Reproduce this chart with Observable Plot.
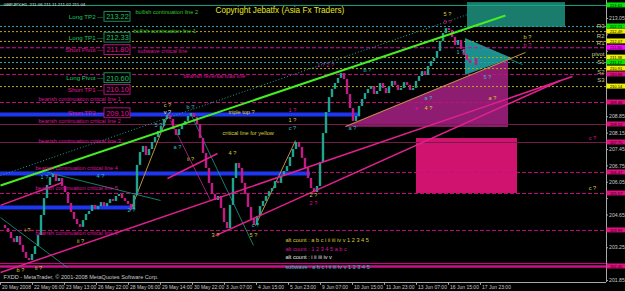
<!DOCTYPE html>
<html><head><meta charset="utf-8">
<script src="https://cdn.jsdelivr.net/npm/d3@7"></script>
<script src="https://cdn.jsdelivr.net/npm/@observablehq/plot@0.6"></script>
<style>html,body{margin:0;padding:0;background:#000;overflow:hidden}</style>
</head><body><div id="chart"></div>
<script>
// ---------- data ----------
const closes = [204.20,204.07,203.90,203.64,203.47,203.73,203.35,203.05,202.79,202.70,
202.96,203.30,203.77,204.63,205.35,205.91,206.25,206.38,206.08,206.21,
205.87,205.61,205.14,204.76,204.46,204.24,204.12,204.41,204.67,204.80,
205.06,204.88,205.01,205.18,205.01,205.14,205.31,205.23,205.44,205.53,
205.35,205.23,205.10,204.88,205.48,206.77,207.32,207.58,207.19,207.45,
207.75,207.96,208.22,208.43,208.73,208.90,208.73,208.30,208.05,208.30,
208.48,208.65,208.86,208.99,208.82,208.52,207.92,207.28,206.64,206.00,
205.53,205.27,205.44,204.93,204.33,204.07,205.06,206.21,206.85,206.64,
206.00,205.53,204.97,204.46,204.20,204.59,205.01,205.23,205.44,205.65,
205.78,206.08,206.00,206.30,206.51,206.72,207.11,207.45,207.75,207.54,
207.07,206.64,206.21,205.78,205.61,205.87,206.89,208.13,209.03,209.67,
210.02,210.27,210.49,210.70,210.44,209.80,209.20,208.65,208.86,209.29,
209.59,209.84,210.02,210.14,209.80,209.93,210.27,210.06,209.84,210.14,
210.36,210.19,209.97,210.06,210.31,210.19,209.97,210.06,210.36,210.57,
210.78,210.61,211.00,211.21,211.34,211.64,212.07,212.41,212.62,212.54,
212.24,211.90,212.11,211.73,211.47,211.25,211.13,211.34,211.04];

const timeTickBars = [0,32,64,96,128,160,192,224,256,288,320,352,384,416,448,480];
const timeTickLabels = ["20 May 2008","22 May 06:00","23 May 13:00","26 May 22:00","28 May 06:00","29 May 14:00","30 May 22:00","3 Jun 07:00","4 Jun 15:00","5 Jun 23:00","9 Jun 07:00","10 Jun 15:00","11 Jun 23:00","13 Jun 07:00","16 Jun 15:00","17 Jun 23:00"];
const priceTicks = [201.85,202.55,203.25,203.95,204.65,205.35,206.05,206.75,207.45,208.15,208.85,209.55,210.25,210.95,211.65,212.35,213.05];

const levelPrice = [213.61,212.71,212.49,212.07,211.80,211.38,211.17,210.91,210.66,210.14,209.46,208.52,207.75,206.47,205.57,203.99,202.58,202.45];
const levelKind  = ["bullTop","bull","pivot","pivot","short","pivot","bull","pivot","bear","pivot","bear","bearMid","bearMid","bear","bear","bear","bearBaseThin","bearBase"];

const blueLevelPrice = [208.95,206.42,204.97];
const blueLevelEnd   = [360,310,135];

const tpNames  = ["Long TP2","Long TP1","Short Pivot","Long Pivot","Short TP1","Short TP2"];
const tpPrices = [213.22,212.33,211.80,210.60,210.10,209.10];

const pivotNames  = ["R3","R2","R1","pivot","S1","S2","S3"];
const pivotPrices = [212.71,212.32,211.98,211.55,211.17,210.78,210.40];

const greenChannel = [{b1:0,p1:205.91,b2:505,p2:213.18}];
const tealChannel  = [{b1:0,p1:206.34,b2:467,p2:213.22}];
const pinkTrends = [
  {b1:0,p1:202.19,b2:572,p2:210.57},
  {b1:215,p1:203.77,b2:560,p2:210.40},
  {b1:0,p1:205.06,b2:62,p2:206.04},
  {b1:167,p1:206.21,b2:217,p2:207.28}];
const tealLegs = [
  {b1:0,p1:204.54,b2:67,p2:202.40},
  {b1:47,p1:206.47,b2:160,p2:205.27},
  {b1:190,p1:208.99,b2:253,p2:203.35},
  {b1:465,p1:212.11,b2:522,p2:211.08}];
const tanLegs = [
  {b1:130,p1:204.84,b2:168,p2:208.99},
  {b1:255,p1:204.20,b2:295,p2:207.83},
  {b1:345,p1:208.43,b2:525,p2:211.60}];
const pinkLegs = [{b1:170,p1:208.69,b2:210,p2:205.27}];

const tealZone = [{b1:467,b2:565,p1:212.67,p2:213.73}];
const pinkZone = [{b1:416,b2:517,p1:205.57,p2:207.92}];
const pinkWedge = [{bar:345,lo:208.40,hi:208.43},{bar:508,lo:208.39,hi:211.30}];
const cyanWedge = [{bar:465,lo:210.61,hi:212.20},{bar:512,lo:211.34,hi:211.34}];

const notes = [
 ["bullish continuation line 2",135,213.31,"bull"],
 ["bullish continuation line 1",133,212.49,"bull"],
 ["subwave critical line",137,211.64,"bear"],
 ["bearish reversal bias line",183,210.57,"bear"],
 ["bearish continuation critical line 1",38,209.59,"bear"],
 ["bearish continuation critical line 2",38,208.65,"bear"],
 ["bearish continuation critical line 3",38,207.79,"bear"],
 ["bearish continuation critical line 4",35,206.64,"bear"],
 ["bearish continuation critical line 5",35,205.78,"bear"],
 ["bearish continuation critical line 6",35,203.86,"bear"],
 ["triple top ?",228,209.03,"yellow"],
 ["critical line for yellow",222,208.13,"yellow"],
 ["alt count : a b c i ii iii iv v 1 2 3 4 5",285,203.56,"yellow"],
 ["alt count : 1 2 3 4 5 a b c",285,203.17,"bear"],
 ["alt count : i ii iii iv v",285,202.83,"white"],
 ["subwave : a b c i ii iii iv v 1 2 3 4 5",285,202.40,"cyan"],
 ["FXDD - MetaTrader, © 2001-2008 MetaQuotes Software Corp.",3,201.98,"gray"]
];
const headerNote = ["GBPJPY,H1  211.06 211.11 211.02 211.04",3,213.65];
const copyrightNote = ["Copyright Jebatfx (Asia Fx Traders)",215,213.39];

const waveMarks = [
 ["i ?",27,203.99,"yellow"],["ii ?",80,203.54,"yellow"],["b ?",20,202.30,"yellow"],["ii ?",38,202.38,"yellow"],
 ["2 ?",131,204.84,"cyan"],["1 ?",44,206.25,"cyan"],["4 ?",100,206.30,"cyan"],
 ["c ?",167,209.33,"yellow"],["v ?",167,209.03,"white"],["b ?",190,209.25,"cyan"],["5 ?",158,208.48,"cyan"],["a ?",177,207.54,"cyan"],["ii ?",190,207.02,"yellow"],
 ["3 ?",215,203.77,"yellow"],["4 ?",232,207.28,"yellow"],["5 ?",253,203.77,"yellow"],["c ?",255,204.20,"cyan"],
 ["c ?",292,208.35,"cyan"],["1 ?",292,209.12,"bear"],["1 ?",292,208.69,"yellow"],
 ["2 ?",313,205.48,"yellow"],["2 ?",313,205.14,"bear"],
 ["a ?",352,208.35,"cyan"],["a ?",428,209.63,"cyan"],["4 ?",428,209.20,"yellow"],["a",416,209.20,"bear"],["a ?",492,209.63,"yellow"],
 ["1 ? 2 ?",325,211.04,"bear"],["b ?",367,210.83,"cyan"],
 ["5 ?",447,213.22,"yellow"],["5 ?",447,212.88,"bear"],["1 ?",460,211.60,"cyan"],
 ["b ?",527,212.24,"yellow"],["b ?",527,211.90,"bear"],["5 ?",487,210.53,"cyan"],
 ["c ?",592,207.92,"bear"],["c ?",592,205.78,"yellow"]
];

// ---------- layout / style ----------
const BAR_STEP = 3;
const AXIS_BAR = 606;
const RIGHT_BAR = 625;
const Y_DOMAIN = [201.764, 213.82];
const FONT = "Liberation Sans, Arial, sans-serif";
const tone = {bull:"#2ec82e", bear:"#d8139c", yellow:"#d8d034", cyan:"#22c2cc", white:"#e4e4e4", gray:"#c8c8c8"};
const levelStyle = {
  bullTop:{stroke:"#1aa888",dash:null,w:1,box:"#00e600"},
  bull:{stroke:"#2aa5a5",dash:"2,2",w:1,box:"#00e600"},
  pivot:{stroke:"#b8a82a",dash:"2,2",w:1,box:"#f0f000"},
  short:{stroke:"#d0109a",dash:"4,2",w:1,box:"#ff00ff"},
  bear:{stroke:"#c0107f",dash:"4,2",w:1,box:"#e0107f"},
  bearMid:{stroke:"#7a1c4c",dash:null,w:1,box:"#e0107f"},
  bearBaseThin:{stroke:"#c8108a",dash:null,w:1,box:null},
  bearBase:{stroke:"#c8108a",dash:null,w:2.5,box:"#e0107f"}
};
const UP = "#1ea58f", DOWN = "#c41a88";

const levels = levelPrice.map((p,i)=>({price:p, kind:levelKind[i]}));
const boxed = levels.filter(d=>levelStyle[d.kind].box);
const freeTicks = priceTicks.filter(t=>boxed.every(d=>Math.abs(d.price-t)>0.27));
const candles = closes.map((c,i)=>({bar:i*BAR_STEP+1.5, open:i?closes[i-1]:c, close:c}));
const tps = tpNames.map((n,i)=>({name:n, price:tpPrices[i], long:n.startsWith("Long")}));
const blues = blueLevelPrice.map((p,i)=>({price:p, end:blueLevelEnd[i]}));

const marks = [];
marks.push(Plot.rect(tealZone,{x1:"b1",x2:"b2",y1:"p1",y2:"p2",fill:"#1a7c6c"}));
marks.push(Plot.rect(pinkZone,{x1:"b1",x2:"b2",y1:"p1",y2:"p2",fill:"#d0136f"}));
marks.push(Plot.areaY(pinkWedge,{x:"bar",y1:"lo",y2:"hi",fill:"#8e1c70"}));
marks.push(Plot.areaY(cyanWedge,{x:"bar",y1:"lo",y2:"hi",fill:"#1f9e9e",fillOpacity:0.9}));
for (const k of Object.keys(levelStyle)) {
  const s = levelStyle[k];
  marks.push(Plot.ruleY(levels.filter(d=>d.kind===k),{y:"price",x1:0,x2:AXIS_BAR,stroke:s.stroke,strokeWidth:s.w,strokeDasharray:s.dash||undefined}));
}
marks.push(Plot.ruleY(blues,{y:"price",x1:0,x2:"end",stroke:"#1f36f0",strokeWidth:4}));
marks.push(Plot.link(tealChannel,{x1:"b1",y1:"p1",x2:"b2",y2:"p2",stroke:"#22a090",strokeDasharray:"1,2"}));
marks.push(Plot.link(tealLegs,{x1:"b1",y1:"p1",x2:"b2",y2:"p2",stroke:"#1f9a8a",strokeWidth:0.8}));
marks.push(Plot.link(tanLegs,{x1:"b1",y1:"p1",x2:"b2",y2:"p2",stroke:"#c09040",strokeWidth:1}));
marks.push(Plot.link(pinkLegs,{x1:"b1",y1:"p1",x2:"b2",y2:"p2",stroke:"#c0208f",strokeWidth:0.8}));
marks.push(Plot.ruleX(candles,{x:"bar",y1:"open",y2:"close",stroke:d=>d.close>=d.open?UP:DOWN,strokeWidth:2.4}));
marks.push(Plot.link(pinkTrends,{x1:"b1",y1:"p1",x2:"b2",y2:"p2",stroke:"#e0208f",strokeWidth:1.5}));
marks.push(Plot.link(greenChannel,{x1:"b1",y1:"p1",x2:"b2",y2:"p2",stroke:"#44ee22",strokeWidth:2}));
// axes
marks.push(Plot.ruleX([AXIS_BAR],{y1:Y_DOMAIN[0],y2:Y_DOMAIN[1],stroke:"#a8a8a8"}));
marks.push(Plot.ruleY([Y_DOMAIN[0]],{x1:0,x2:AXIS_BAR,stroke:"#a8a8a8"}));
marks.push(Plot.ruleY(priceTicks,{y:d=>d,x1:AXIS_BAR,x2:AXIS_BAR+2,stroke:"#a8a8a8"}));
marks.push(Plot.text(freeTicks,{x:AXIS_BAR+2.5,y:d=>d,text:d=>d.toFixed(2),textAnchor:"start",fontSize:5.2,fill:"#c8c8c8"}));
marks.push(Plot.ruleX(timeTickBars,{x:d=>d,y1:Y_DOMAIN[0],y2:Y_DOMAIN[0]-0.12,stroke:"#a8a8a8"}));
marks.push(Plot.text(timeTickBars,{x:d=>d,y:Y_DOMAIN[0],text:(d,i)=>timeTickLabels[i],dy:5,dx:1.5,textAnchor:"start",fontSize:5,fill:"#c8c8c8"}));
// right level boxes
marks.push(Plot.rect(boxed,{x1:AXIS_BAR+0.5,x2:RIGHT_BAR,y1:d=>d.price-0.105,y2:d=>d.price+0.105,fill:d=>levelStyle[d.kind].box}));
marks.push(Plot.text(boxed,{x:(AXIS_BAR+RIGHT_BAR)/2,y:"price",text:d=>d.price.toFixed(2),fill:"#000",fontSize:4}));
marks.push(Plot.text(pivotPrices,{x:AXIS_BAR-2,y:d=>d,text:(d,i)=>pivotNames[i],textAnchor:"end",fontSize:6,fill:"#c8c890"}));
// TP labels
marks.push(Plot.text(tps,{x:103,y:d=>d.price-0.1,text:d=>d.name+" \u2014",textAnchor:"end",fontSize:6.2,fill:d=>d.long?"#18c466":"#e0109a"}));
marks.push(Plot.rect(tps,{x1:104,x2:130,y1:d=>d.price-0.31,y2:d=>d.price+0.11,fill:"#000",stroke:d=>d.long?"#1a8a5a":"#b0107f"}));
marks.push(Plot.text(tps,{x:117,y:d=>d.price-0.1,text:d=>d.price.toFixed(2),fontSize:7.4,fill:d=>d.long?"#18c466":"#e0109a"}));
// notes
marks.push(Plot.text(notes,{x:d=>d[1],y:d=>d[2],text:d=>d[0],fill:d=>tone[d[3]],textAnchor:"start",fontSize:5.6}));
marks.push(Plot.text([headerNote],{x:d=>d[1],y:d=>d[2],text:d=>d[0],fill:"#e0e0e0",textAnchor:"start",fontSize:4.4}));
marks.push(Plot.text([copyrightNote],{x:d=>d[1],y:d=>d[2],text:d=>d[0],fill:"#e8e820",textAnchor:"start",fontSize:8.2}));
marks.push(Plot.text(waveMarks,{x:d=>d[1],y:d=>d[2],text:d=>d[0],fill:d=>tone[d[3]],fontSize:5.6}));

const chart = Plot.plot({
  width:625, height:291,
  marginLeft:0, marginRight:0, marginTop:0, marginBottom:9,
  x:{domain:[0,RIGHT_BAR], axis:null},
  y:{domain:Y_DOMAIN, axis:null},
  color:{type:"identity"},
  style:{background:"#000", color:"#c8c8c8", fontFamily:FONT, fontSize:"5.5px"},
  marks
});
document.getElementById("chart").appendChild(chart);
</script></body></html>
